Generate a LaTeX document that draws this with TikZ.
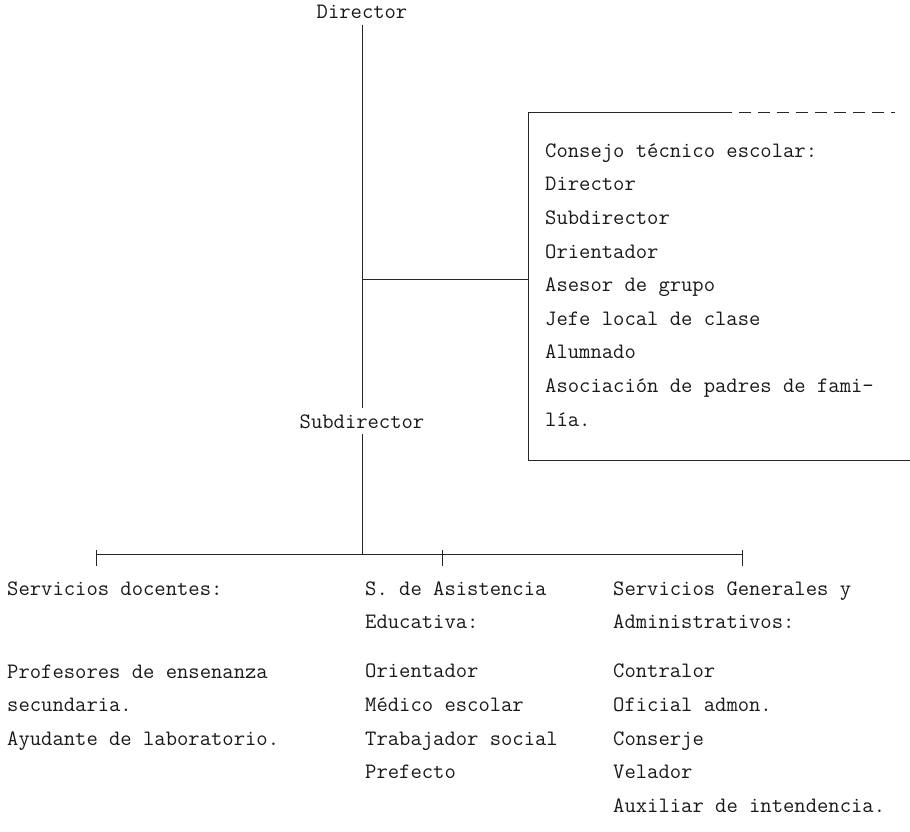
\documentclass[tikz,border=0pt]{standalone}
\usepackage{fontspec}
\usepackage{tikz}
\usetikzlibrary{positioning}
\tikzset{
  texto/.style={font=\ttfamily\fontsize{22}{33.6}\selectfont\addfontfeatures{FakeBold=0.6}, text=black!90, inner sep=0pt},
  lista/.style={texto, align=left, anchor=north west},
  linea/.style={line width=0.9pt, black!85},
}
\newcommand{\alto}{\rule{0pt}{16pt}}

\begin{document}
\begin{tikzpicture}[x=1pt,y=-1pt]
  \useasboundingbox (0,0) rectangle (910,832);
  % direccion
  \node[texto, anchor=base, inner sep=6pt] (director) at (362,19) {Director};
  \node[texto, anchor=base, inner sep=6pt] (subdir) at (362,428) {Subdirector};
  \draw[linea] (director) -- (subdir);
  % consejo tecnico
  \coordinate (cruce) at (362,279);
  \coordinate (caja) at (528,279);
  \draw[linea] (cruce) -- (caja);
  \draw[linea] (720,112) -- (528,112) -- (528,460) -- (910,460);
  \draw[linea, dash pattern=on 12pt off 7pt] (720,112) -- (895,112);
  \node[lista] (consejo) at (545,141) {\alto Consejo técnico escolar:\\ Director\\ Subdirector\\ Orientador\\ Asesor de grupo\\ Jefe local de clase\\ Alumnado\\ Asociación de padres de fami-\\ lía.};
  % servicios
  \coordinate (bus) at (362,554);
  \draw[linea] (subdir) -- (bus);
  \draw[linea] (96,554) -- (742,554);
  \foreach \x in {96,442,742} \draw[linea] (\x,550) -- (\x,566);
  \node[lista] (docentes) at (7,579) {\alto Servicios docentes:\\[49.4pt] Profesores de ensenanza\\ secundaria.\\ Ayudante de laboratorio.};
  \node[lista] (asistencia) at (365,579) {\alto S. de Asistencia\\ Educativa:\\[15.4pt] Orientador\\ Médico escolar\\ Trabajador social\\ Prefecto};
  \node[lista] (generales) at (613,579) {\alto Servicios Generales y\\ Administrativos:\\[15.4pt] Contralor\\ Oficial admon.\\ Conserje\\ Velador\\ Auxiliar de intendencia.};
\end{tikzpicture}
\end{document}
